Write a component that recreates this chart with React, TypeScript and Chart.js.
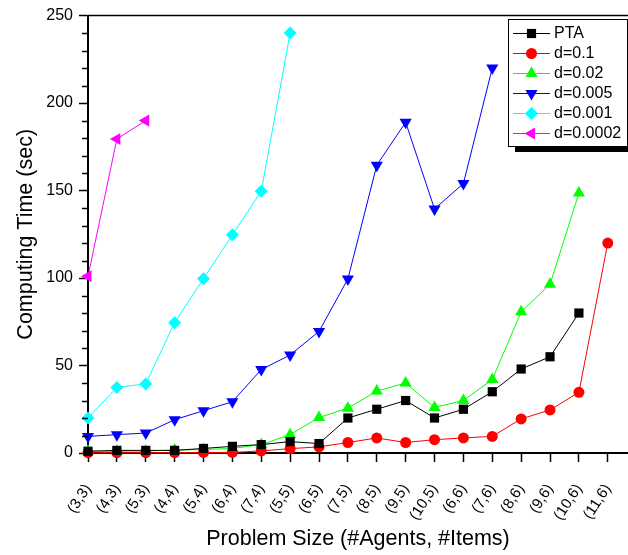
import { useEffect, useRef } from 'react';
import { Chart, registerables } from 'chart.js';
import { drawPoint } from 'chart.js/helpers';

Chart.register(...registerables);

const categories = ['(3,3)', '(4,3)', '(5,3)', '(4,4)', '(5,4)', '(6,4)', '(7,4)', '(5,5)', '(6,5)', '(7,5)', '(8,5)', '(9,5)', '(10,5)', '(6,6)', '(7,6)', '(8,6)', '(9,6)', '(10,6)', '(11,6)'];

const pta = [1, 1.5, 1.5, 1.5, 2.6, 3.8, 4.8, 6.5, 5.4, 20, 25, 30, 20, 25, 35, 48, 55, 80, null];
const d01 = [0.2, 0.2, 0.2, 0.2, 0.3, 0.3, 1.2, 2.5, 3.5, 6, 8.6, 6, 7.6, 8.6, 9.5, 19.5, 24.6, 34.7, 120];
const d002 = [1, 1, 1.1, 1.7, 2, 2.6, 4.8, 10.5, 20.3, 25.6, 35.4, 40, 26, 30, 42, 80.7, 96.4, 148.6, null];
const d0005 = [9.5, 10.5, 11.4, 19, 24.2, 29.3, 47.7, 56, 69.5, 99.5, 164.5, 189, 139.5, 154, 220, null, null, null, null];
const d0001 = [20, 37.5, 39.5, 74.5, 99.6, 124.7, 149.6, 240, null, null, null, null, null, null, null, null, null, null, null];
const d00002 = [101, 179.5, 190, null, null, null, null, null, null, null, null, null, null, null, null, null, null, null, null];

const yTicks = [0, 50, 100, 150, 200, 250];

const FONT = '"Liberation Sans", Arial, sans-serif';

const series = [
  { label: 'PTA', values: pta, color: '#000000', style: 'rect', radius: 6.5, rotation: 0 },
  { label: 'd=0.1', values: d01, color: '#FF0000', style: 'circle', radius: 5.5, rotation: 0 },
  { label: 'd=0.02', values: d002, color: '#00FF00', style: 'triangle', radius: 7, rotation: 0 },
  { label: 'd=0.005', values: d0005, color: '#0000FF', style: 'triangle', radius: 7, rotation: 180 },
  { label: 'd=0.001', values: d0001, color: '#00FFFF', style: 'rectRot', radius: 6.5, rotation: 0 },
  { label: 'd=0.0002', values: d00002, color: '#FF00FF', style: 'triangle', radius: 7, rotation: 270 },
];

const toPoints = (vals: (number | null)[]) =>
  vals.flatMap((v, i) => (v == null ? [] : [{ x: i, y: v }]));

const decor = {
  id: 'decor',
  afterDraw(chart: any) {
    const ctx = chart.ctx;
    const { left, right, top } = chart.chartArea;
    const y = chart.scales.y;
    ctx.save();
    ctx.strokeStyle = '#000';
    ctx.lineWidth = 1.5;
    ctx.beginPath();
    ctx.moveTo(left, top);
    ctx.lineTo(right, top);
    ctx.stroke();
    for (let v = 10; v < 250; v += 10) {
      if (v % 50 === 0) continue;
      const py = Math.round(y.getPixelForValue(v)) + 0.5;
      ctx.beginPath();
      ctx.moveTo(left - 6, py);
      ctx.lineTo(left, py);
      ctx.stroke();
    }
    const bx = 508, by = 19, bw = 119, bh = 127;
    ctx.fillStyle = '#000';
    ctx.fillRect(bx + 7, by + 6, bw, bh);
    ctx.fillStyle = '#fff';
    ctx.fillRect(bx, by, bw, bh);
    ctx.lineWidth = 1;
    ctx.strokeStyle = '#000';
    ctx.strokeRect(bx + 0.5, by + 0.5, bw, bh);
    ctx.font = `16px ${FONT}`;
    ctx.textBaseline = 'middle';
    ctx.textAlign = 'left';
    series.forEach((s, i) => {
      const ry = 33 + i * 20;
      ctx.strokeStyle = s.color;
      ctx.lineWidth = 1;
      ctx.beginPath();
      ctx.moveTo(513, ry + 0.5);
      ctx.lineTo(550, ry + 0.5);
      ctx.stroke();
      ctx.fillStyle = s.color;
      drawPoint(ctx, { pointStyle: s.style, radius: s.radius, rotation: s.rotation, borderWidth: 0 }, 531.5, ry + 0.5);
      ctx.fillStyle = '#000';
      ctx.fillText(s.label, 554, ry + 1);
    });
    ctx.restore();
  },
};

export default function App() {
  const ref = useRef<HTMLCanvasElement>(null);
  useEffect(() => {
    const chart = new Chart(ref.current!, {
      type: 'line',
      data: {
        datasets: series.map((s) => ({
          label: s.label,
          data: toPoints(s.values),
          borderColor: s.color,
          backgroundColor: s.color,
          borderWidth: 1,
          pointStyle: s.style as any,
          pointRadius: s.radius,
          pointRotation: s.rotation,
          pointBorderWidth: 0,
          pointBackgroundColor: s.color,
          tension: 0,
          clip: false as any,
        })),
      },
      options: {
        responsive: false,
        animation: false,
        layout: { autoPadding: false, padding: { top: 12, left: 0, right: 0, bottom: 0 } },
        plugins: { legend: { display: false }, tooltip: { enabled: false } },
        scales: {
          x: {
            type: 'linear',
            min: 0,
            max: 18.7,
            afterBuildTicks: (s: any) => {
              s.ticks = categories.map((_, i) => ({ value: i }));
            },
            afterFit: (s: any) => {
              s.height = 102;
              s.paddingLeft = 0;
              s.paddingRight = 0;
            },
            ticks: {
              autoSkip: false,
              minRotation: 57,
              maxRotation: 57,
              padding: 19,
              color: '#000',
              font: { family: FONT, size: 15 },
              callback: (v: any) => categories[v as number] ?? '',
            },
            grid: { drawOnChartArea: false, drawTicks: true, tickLength: 9, tickColor: '#000', tickWidth: 1.5 },
            border: { color: '#000', width: 2 },
            title: {
              display: true,
              text: 'Problem Size (#Agents, #Items)',
              color: '#000',
              font: { family: FONT, size: 21.5 },
              padding: { top: 0, bottom: 3 },
            },
          },
          y: {
            type: 'linear',
            min: 0,
            max: 250,
            afterBuildTicks: (s: any) => {
              s.ticks = yTicks.map((v) => ({ value: v }));
            },
            afterFit: (s: any) => {
              s.width = 88;
            },
            ticks: { padding: 6, color: '#000', font: { family: FONT, size: 16 } },
            grid: { drawOnChartArea: false, drawTicks: true, tickLength: 9, tickColor: '#000', tickWidth: 1.5 },
            border: { color: '#000', width: 2 },
            title: {
              display: true,
              text: 'Computing Time (sec)',
              color: '#000',
              font: { family: FONT, size: 21.5 },
              padding: { top: 13, bottom: 0 },
            },
          },
        },
      },
      plugins: [decor],
    });
    return () => chart.destroy();
  }, []);
  return (
    <div style={{ position: 'fixed', left: 0, top: 0, width: 628, height: 555, background: '#fff', overflow: 'hidden' }}>
      <canvas ref={ref} width={628} height={555} style={{ display: 'block' }} />
    </div>
  );
}
